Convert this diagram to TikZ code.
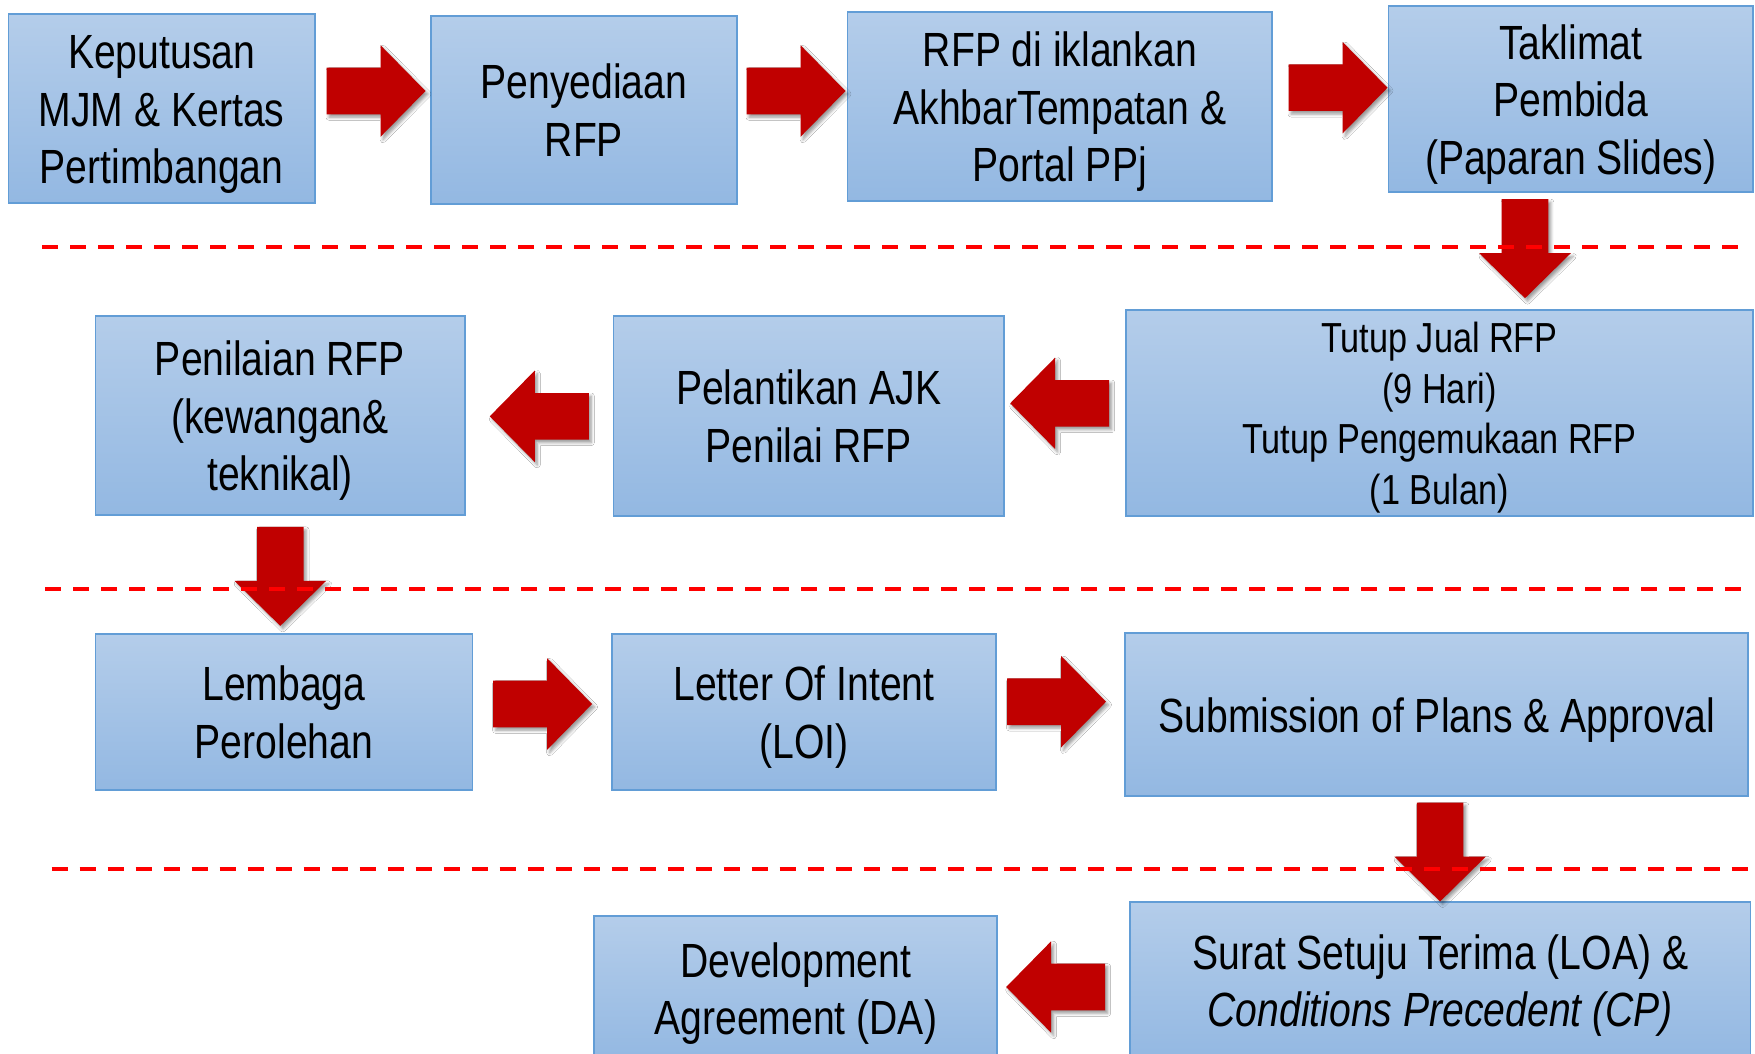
\documentclass[tikz,border=0pt]{standalone}
\usepackage{fontspec}
\setmainfont{Liberation Sans}[FakeStretch=0.815]
\usetikzlibrary{shadows,shadows.blur}
\definecolor{boxtop}{RGB}{180,205,234}
\definecolor{boxbot}{RGB}{147,184,226}
\definecolor{boxline}{RGB}{98,157,214}
\definecolor{arrred}{RGB}{192,0,0}
\definecolor{dashred}{RGB}{255,0,0}
\tikzset{
  stepbox/.style={draw=boxline, line width=1.8pt, top color=boxtop, bottom color=boxbot,
    inner sep=0pt, font=\fontsize{48pt}{57.5pt}\selectfont, text=black},
  blockarrow/.style={fill=arrred, blur shadow={shadow xshift=2.5pt, shadow yshift=-3pt, shadow blur radius=3pt, shadow opacity=40}},
  rowsep/.style={draw=dashred, line width=4pt, dash pattern=on 16pt off 12pt},
}
% text block whose box runs from the cap top of the first line to the last baseline
\newcommand\tl[2]{\raisebox{0pt}[#1pt][0pt]{\begin{tabular}[b]{@{}c@{}}#2\end{tabular}}}
\newcommand\bigarrow[3]{%
  \begin{scope}[shift={(#1,#2)}, rotate=#3]
    \path[blockarrow] (-49.5,-23.3) -- (4.5,-23.3) -- (4.5,-45.8) -- (49.5,0) -- (4.5,45.8) -- (4.5,23.3) -- (-49.5,23.3) -- cycle;
  \end{scope}}
\begin{document}
\begin{tikzpicture}[x=1pt,y=-1pt]
\useasboundingbox (0,0) rectangle (1755,1054);
\fill[white] (0,0) rectangle (1755,1054);
% row 1
\node[stepbox, minimum width=306.4pt, minimum height=189pt] (b1) at (161.6,108.8) {\tl{150}{Keputusan\\MJM \& Kertas\\Pertimbangan}};
\node[stepbox, minimum width=305.8pt, minimum height=188.6pt] (b2) at (583.9,110) {\tl{92.5}{Penyediaan\\RFP}};
\node[stepbox, minimum width=424.9pt, minimum height=188.7pt] (b3) at (1059.85,106.65) {\tl{150}{RFP di iklankan\\AkhbarTempatan \&\\Portal PPj}};
\node[stepbox, minimum width=364.5pt, minimum height=186.6pt] (b4) at (1570.75,99) {\tl{150}{Taklimat\\Pembida\\(Paparan Slides)}};
% row 2
\node[stepbox, minimum width=627.2pt, minimum height=205.7pt, font=\fontsize{42pt}{50.5pt}\selectfont] (b5) at (1439.4,413.15) {\tl{182}{Tutup Jual RFP\\(9 Hari)\\Tutup Pengemukaan RFP\\(1 Bulan)}};
\node[stepbox, minimum width=390.6pt, minimum height=200pt] (b6) at (808.7,416) {\tl{92.5}{Pelantikan AJK\\Penilai RFP}};
\node[stepbox, minimum width=369.2pt, minimum height=199pt] (b7) at (280,415.5) {\tl{150}{Penilaian RFP\\(kewangan\&\\teknikal)}};
% row 3
\node[stepbox, minimum width=377.1pt, minimum height=155.7pt] (b8) at (283.95,712.15) {\tl{92.5}{Lembaga\\Perolehan}};
\node[stepbox, minimum width=384.5pt, minimum height=155.7pt] (b9) at (803.95,712.15) {\tl{92.5}{Letter Of Intent\\(LOI)}};
\node[stepbox, minimum width=622.9pt, minimum height=162.7pt] (b10) at (1436.75,714.65) {\tl{35}{Submission of Plans \& Approval}};
% row 4
\node[stepbox, minimum width=620.1pt, minimum height=158pt] (b11) at (1440.35,980.7) {\tl{92.5}{Surat Setuju Terima (LOA) \&\\\textit{Conditions Precedent (CP)}}};
\node[stepbox, minimum width=403pt, minimum height=146pt] (b12) at (795.8,988.7) {\tl{92.5}{Development\\Agreement (DA)}};
% block arrows
\bigarrow{376}{91}{0}
\bigarrow{796}{91}{0}
\bigarrow{1338}{87.7}{0}
\bigarrow{1525}{248.7}{-90}
\bigarrow{1059.7}{403.3}{180}
\bigarrow{539.3}{416.3}{180}
\bigarrow{280.3}{576.4}{-90}
\bigarrow{542.6}{704}{0}
\bigarrow{1056.5}{701.7}{0}
\bigarrow{1440.1}{852}{-90}
\bigarrow{1055.7}{987}{180}
% dashed separators
\coordinate (s1a) at (42,246.7);  \coordinate (s1b) at (1740,246.7);
\coordinate (s2a) at (45,589);    \coordinate (s2b) at (1744,589);
\coordinate (s3a) at (51.6,869);  \coordinate (s3b) at (1750,869);
\draw[rowsep] (s1a) -- (s1b);
\draw[rowsep] (s2a) -- (s2b);
\draw[rowsep] (s3a) -- (s3b);
\end{tikzpicture}
\end{document}
